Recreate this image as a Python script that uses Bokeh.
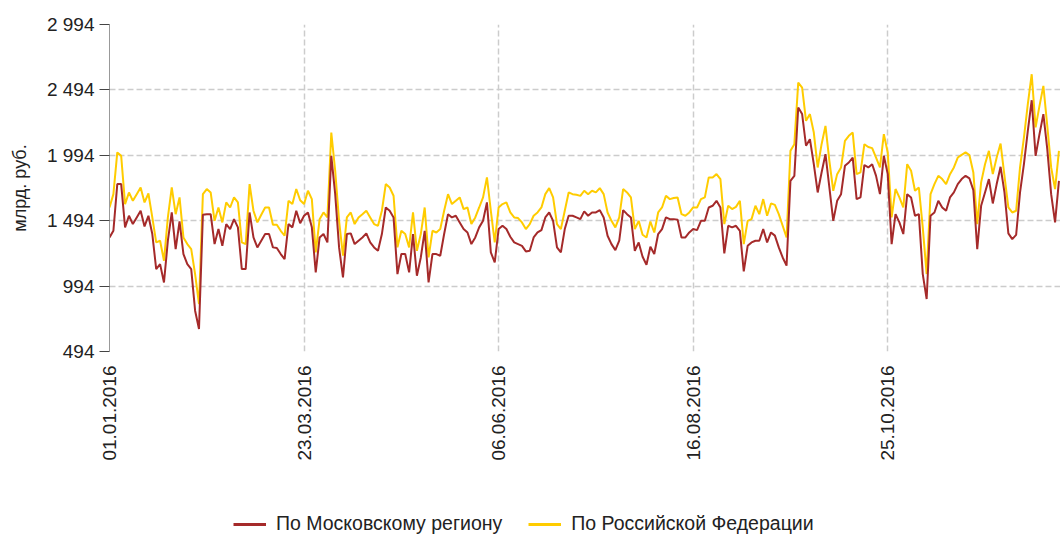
import math
from bokeh.plotting import figure
from bokeh.layouts import column
from bokeh.models import Range1d, FixedTicker, Legend, LegendItem
from bokeh.embed import file_html
from bokeh.resources import INLINE

# Daily values, bln rub (trading days of 2016)
moscow = [
    1366, 1417, 1774, 1774, 1443, 1532, 1468, 1519, 1570, 1450,
    1532, 1392, 1124, 1162, 1022, 1341, 1557, 1277, 1488, 1239,
    1162, 1124, 806, 666, 1539, 1544, 1544, 1315, 1430, 1302,
    1468, 1430, 1506, 1443, 1124, 1124, 1557, 1366, 1290, 1341,
    1392, 1392, 1290, 1285, 1239, 1201, 1468, 1443, 1570, 1475,
    1532, 1557, 1443, 1099, 1366, 1392, 1328, 1990, 1697, 1290,
    1060, 1392, 1397, 1315, 1341, 1366, 1397, 1328, 1290, 1264,
    1392, 1595, 1570, 1519, 1086, 1239, 1239, 1099, 1392, 1073,
    1213, 1417, 1022, 1239, 1239, 1226, 1392, 1544, 1519, 1532,
    1481, 1430, 1404, 1315, 1366, 1443, 1493, 1634, 1252, 1175,
    1430, 1455, 1430, 1371, 1328, 1315, 1302, 1259, 1264, 1366,
    1404, 1422, 1519, 1557, 1493, 1290, 1252, 1430, 1532, 1532,
    1519, 1506, 1565, 1532, 1557, 1557, 1575, 1519, 1379, 1315,
    1269, 1341, 1575, 1544, 1519, 1264, 1328, 1218, 1157, 1295,
    1239, 1392, 1430, 1519, 1506, 1506, 1502, 1366, 1366, 1404,
    1430, 1422, 1493, 1493, 1595, 1608, 1646, 1595, 1244, 1455,
    1443, 1455, 1417, 1106, 1302, 1328, 1341, 1341, 1430, 1328,
    1404, 1380, 1290, 1213, 1150, 1799, 1837, 2359, 2309, 2067,
    2117, 1926, 1710, 1863, 2003, 1748, 1493, 1646, 1697, 1914,
    1939, 1977, 1659, 1672, 1920, 1901, 1926, 1837, 1697, 1990,
    1850, 1315, 1544, 1481, 1392, 1697, 1672, 1532, 1544, 1086,
    895, 1532, 1557, 1646, 1595, 1570, 1672, 1710, 1774, 1812,
    1837, 1817, 1728, 1277, 1608, 1710, 1812, 1626, 1774, 1906,
    1710, 1397, 1353, 1386, 1710, 1926, 2181, 2415, 1990, 2156,
    2309, 2041, 1697, 1481, 1799,
]
russia = [
    1595, 1697, 2016, 1990, 1621, 1710, 1646, 1697, 1748, 1634,
    1702, 1519, 1328, 1341, 1188, 1519, 1748, 1544, 1672, 1366,
    1315, 1277, 1086, 857, 1697, 1736, 1710, 1493, 1595, 1481,
    1634, 1595, 1672, 1634, 1328, 1315, 1774, 1570, 1481, 1539,
    1595, 1595, 1463, 1463, 1417, 1379, 1646, 1621, 1736, 1650,
    1621, 1723, 1659, 1252, 1506, 1557, 1519, 2168, 1876, 1493,
    1226, 1519, 1557, 1468, 1519, 1544, 1570, 1519, 1468, 1455,
    1570, 1774, 1748, 1685, 1290, 1417, 1392, 1290, 1557, 1264,
    1392, 1595, 1213, 1417, 1404, 1430, 1570, 1697, 1621, 1646,
    1672, 1583, 1595, 1468, 1519, 1595, 1672, 1825, 1570, 1328,
    1595, 1621, 1634, 1557, 1519, 1514, 1481, 1430, 1468, 1532,
    1557, 1595, 1697, 1743, 1672, 1468, 1430, 1570, 1710, 1697,
    1692, 1684, 1723, 1697, 1723, 1710, 1743, 1697, 1557, 1493,
    1443, 1519, 1736, 1710, 1672, 1430, 1493, 1387, 1366, 1488,
    1404, 1557, 1595, 1684, 1659, 1667, 1672, 1544, 1532, 1557,
    1595, 1595, 1659, 1672, 1825, 1825, 1850, 1812, 1468, 1608,
    1583, 1600, 1646, 1315, 1493, 1506, 1608, 1544, 1659, 1532,
    1626, 1615, 1544, 1455, 1366, 2028, 2079, 2550, 2512, 2258,
    2309, 2168, 1901, 2079, 2219, 1952, 1723, 1850, 1901, 2105,
    2143, 2168, 1850, 1863, 2079, 2057, 2049, 1977, 1901, 2156,
    2016, 1519, 1736, 1672, 1595, 1926, 1876, 1723, 1748, 1443,
    1086, 1697, 1774, 1837, 1812, 1774, 1850, 1901, 1977, 1997,
    2016, 1995, 1863, 1468, 1787, 1926, 2028, 1850, 1977, 2084,
    1837, 1595, 1557, 1570, 1901, 2130, 2385, 2614, 2207, 2372,
    2525, 2219, 1901, 1736, 2028,
]
x_tick_pos = [0, 50, 100, 150, 200]
x_tick_labels = ["01.01.2016", "23.03.2016", "06.06.2016", "16.08.2016", "25.10.2016"]
y_ticks = [494, 994, 1494, 1994, 2494, 2994]
y_tick_labels = ["494", "994", "1 494", "1 994", "2 494", "2 994"]
series_names = ["По Московскому региону", "По Российской Федерации"]
series_colors = ["#A52A2A", "#FFCC00"]
y_title = "млрд. руб."

idx = list(range(len(moscow)))
FONT = "Liberation Sans"
TXT = "#222222"

p = figure(width=1060, height=490, output_backend="svg", toolbar_location=None,
           x_range=Range1d(0, 244.4), y_range=Range1d(494, 2994),
           min_border_left=109, min_border_top=24, min_border_bottom=139,
           min_border_right=0)
p.outline_line_color = None
p.background_fill_color = "white"

p.line(idx, russia, line_color=series_colors[1], line_width=2)
p.line(idx, moscow, line_color=series_colors[0], line_width=2)

# axes
p.yaxis.ticker = FixedTicker(ticks=y_ticks)
p.yaxis.major_label_overrides = {t: l for t, l in zip(y_ticks, y_tick_labels)}
p.xaxis.ticker = FixedTicker(ticks=x_tick_pos)
p.xaxis.major_label_overrides = {t: l for t, l in zip(x_tick_pos, x_tick_labels)}
p.xaxis.major_label_orientation = math.pi / 2

for ax in p.axis:
    ax.major_label_text_font = FONT
    ax.major_label_text_font_size = "19px"
    ax.major_label_text_color = TXT
    ax.minor_tick_line_color = None

p.yaxis.axis_line_color = "#999999"
p.yaxis.major_tick_line_color = "#444444"
p.yaxis.major_tick_out = 10
p.yaxis.major_tick_in = 0
p.yaxis.major_label_standoff = 5
p.yaxis.axis_label = y_title
p.yaxis.axis_label_text_font = FONT
p.yaxis.axis_label_text_font_size = "18px"
p.yaxis.axis_label_text_font_style = "normal"
p.yaxis.axis_label_text_color = TXT
p.yaxis.axis_label_standoff = 14

p.xaxis.axis_line_color = None
p.xaxis.major_tick_line_color = None
p.xaxis.major_label_standoff = 8

# grid
p.grid.grid_line_color = "#CCCCCC"
p.grid.grid_line_dash = "6 3"
p.grid.grid_line_width = 1.5

# legend strip below the chart (its frame is aligned with the chart frame)
nan = float("nan")
lg = figure(width=1060, height=46, output_backend="svg", toolbar_location=None,
            x_axis_type=None, y_axis_type=None,
            x_range=Range1d(0, 1), y_range=Range1d(0, 1), min_border=0)
lg.outline_line_color = None
lg.grid.visible = False
k_mo = lg.line(x=[nan], y=[nan], line_color=series_colors[0], line_width=3)
k_ru = lg.line(x=[nan], y=[nan], line_color=series_colors[1], line_width=3)
legend = Legend(items=[LegendItem(label=series_names[0], renderers=[k_mo]),
                       LegendItem(label=series_names[1], renderers=[k_ru])],
                orientation="horizontal", location=(124, 1),
                label_text_font=FONT, label_text_font_size="19.5px",
                label_text_color=TXT, glyph_width=33, glyph_height=20,
                label_standoff=10, spacing=26, padding=2, margin=0,
                border_line_color=None, background_fill_alpha=0)
lg.add_layout(legend)

open("out.html", "w").write(file_html(column(p, lg, spacing=0), INLINE))
